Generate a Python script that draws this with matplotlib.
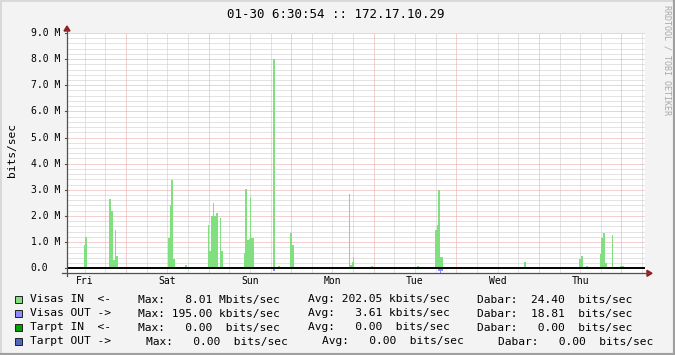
import matplotlib
matplotlib.use("Agg")
import numpy as np
import matplotlib.pyplot as plt
from matplotlib.transforms import blended_transform_factory
from matplotlib.patches import Rectangle, Polygon

W, H = 675, 355

# traffic: hours since Fri 00:00 -> Mbit/s (step series)
in_hours = [11.8, 12.1, 12.7,
            19.0, 19.55, 20.15, 20.7, 21.0, 21.7,
            36.1, 36.8, 37.1, 37.65, 38.25,
            41.15, 41.75,
            47.85, 48.15, 48.7, 49.3, 49.6, 50.15, 50.75, 51.35, 51.6, 52.2,
            58.3, 58.6, 59.2, 59.75, 60.15, 60.45, 61.1,
            66.75, 67.3,
            68.2, 68.8,
            71.6, 72.15, 72.75,
            88.75, 89.05, 89.7, 90.0, 90.3, 90.85,
            95.2, 95.8,
            108.6, 109.2,
            113.9, 114.3, 114.7, 115.3, 116.15,
            139.7, 140.3,
            155.7, 156.25, 156.85,
            157.7, 158.3,
            161.8, 162.1, 162.65, 163.25, 163.85,
            165.3, 165.6,
            167.6, 168.75]
in_mbps = [0.9, 1.2, 0,
           2.64, 2.2, 0.32, 1.46, 0.46, 0,
           1.16, 2.41, 3.37, 0.36, 0,
           0.11, 0,
           1.65, 0.64, 2.0, 2.49, 2.0, 2.12, 0, 1.93, 0.65, 0,
           0.59, 3.03, 1.07, 1.1, 2.73, 1.15, 0,
           8.01, 0,
           0.08, 0,
           1.34, 0.88, 0,
           2.83, 0.13, 0.25, 0.42, 0.05, 0,
           0.09, 0,
           0.09, 0,
           1.47, 1.67, 2.99, 0.41, 0,
           0.24, 0,
           0.36, 0.47, 0,
           0.09, 0,
           0.55, 1.15, 1.35, 0.2, 0,
           1.27, 0,
           0.09, 0]

out_hours = [66.75, 67.3, 88.75, 89.05, 114.7, 115.3, 115.6, 116.15]
out_mbps = [0.1, 0, 0.04, 0, 0.09, 0.195, 0.09, 0]

t_start, t_end = 6.85, 174.85
y_min, y_max = -0.195, 9.0

day_names = ['Fri', 'Sat', 'Sun', 'Mon', 'Tue', 'Wed', 'Thu']
y_ticks = [0, 1, 2, 3, 4, 5, 6, 7, 8, 9]
y_labels = ['0.0', '1.0 M', '2.0 M', '3.0 M', '4.0 M', '5.0 M', '6.0 M',
            '7.0 M', '8.0 M', '9.0 M']

title = '01-30 6:30:54 :: 172.17.10.29'
legend_names = ['Visas IN  <-', 'Visas OUT ->', 'Tarpt IN  <-', 'Tarpt OUT ->']
legend_max = ['Max:   8.01 Mbits/sec', 'Max: 195.00 kbits/sec',
              'Max:   0.00  bits/sec', 'Max:   0.00  bits/sec']
legend_avg = ['Avg: 202.05 kbits/sec', 'Avg:   3.61 kbits/sec',
              'Avg:   0.00  bits/sec', 'Avg:   0.00  bits/sec']
legend_cur = ['Dabar:  24.40  bits/sec', 'Dabar:  18.81  bits/sec',
              'Dabar:   0.00  bits/sec', 'Dabar:   0.00  bits/sec']
legend_colors = ['#80e080', '#8c8cff', '#00a000', '#5068c0']

MONO = 'DejaVu Sans Mono'

fig = plt.figure(figsize=(W / 100, H / 100), dpi=100, facecolor='#f3f3f3')

def fx(px):
    return px / W

def fy(py):
    return 1 - py / H

ax_l, ax_r, ax_t, ax_b = 67, 645, 33, 273.3
ax = fig.add_axes([fx(ax_l), fy(ax_b), fx(ax_r - ax_l), (ax_b - ax_t) / H])
ax.set_facecolor('white')
ax.set_xlim(t_start, t_end)
ax.set_ylim(y_min, y_max)
for s in ax.spines.values():
    s.set_visible(False)
ax.set_xticks([])
ax.set_yticks([])

# grid (dotted, minor gray / major red)
dots = (0, (1, 1))
minor_c, major_c = '#c8c8c8', '#e8a0a0'
for h in np.arange(6, t_end, 6):
    if h < t_start:
        continue
    major = (h % 24 == 0)
    ax.axvline(h, color=major_c if major else minor_c, lw=0.72, ls=dots, zorder=1)
for v in np.arange(0, 9.01, 0.2):
    major = abs(v - round(v)) < 1e-6
    ax.axhline(v, color=major_c if major else minor_c, lw=0.72, ls=dots, zorder=1)

# data
ax.fill_between(in_hours, 0, in_mbps, step='post', color='#80e080', lw=0,
                antialiased=False, zorder=2)
ax.fill_between(out_hours, 0, -np.array(out_mbps), step='post', color='#8c8cff',
                lw=0, antialiased=False, zorder=2)

# zero rule
ax.axhline(0, color='black', lw=1.4, zorder=3)

# axis lines with arrows
axis_c, arrow_c = '#505050', '#902020'
fig.add_artist(plt.Line2D([fx(ax_l), fx(ax_l)], [fy(276), fy(30)],
                          color=axis_c, lw=0.9))
fig.add_artist(plt.Line2D([fx(62), fx(649)], [fy(ax_b), fy(ax_b)],
                          color=axis_c, lw=0.9))
fig.add_artist(Polygon([[fx(ax_l - 3), fy(31)], [fx(ax_l + 3), fy(31)],
                        [fx(ax_l), fy(26)]], closed=True, color=arrow_c,
                       transform=fig.transFigure))
fig.add_artist(Polygon([[fx(647), fy(ax_b - 3)], [fx(647), fy(ax_b + 3)],
                        [fx(652), fy(ax_b)]], closed=True, color=arrow_c,
                       transform=fig.transFigure))

# y labels and little ticks
ty = blended_transform_factory(fig.transFigure, ax.transData)
for v, lab in zip(y_ticks, y_labels):
    ax.text(fx(30.7), v, lab, transform=ty, ha='left', va='center',
            fontsize=7, family=MONO, color='black', clip_on=False)
    ax.plot([fx(ax_l - 2), fx(ax_l)], [v, v], transform=ty, color=axis_c,
            lw=0.8, clip_on=False)

# x day labels at noon
tx = blended_transform_factory(ax.transData, fig.transFigure)
for i, d in enumerate(day_names):
    ax.text(12 + 24 * i, fy(281), d, transform=tx, ha='center', va='center',
            fontsize=7, family=MONO, color='black', clip_on=False)

fig.text(fx(12), fy(150), 'bits/sec', rotation=90, ha='center', va='center',
         fontsize=8.15, family=MONO)
fig.text(fx(335.5), fy(14), title, ha='center', va='center', fontsize=9,
         family=MONO)
fig.text(fx(667), fy(60), 'RRDTOOL / TOBI OETIKER', rotation=270,
         ha='center', va='center', fontsize=6, family=MONO, color='#a8a8a8')

# legend (rrdtool puts the last row one column further per block)
col_x = [[30, 137.8, 307.8, 477]] * 3 + [[30, 145.5, 322, 498.5]]
for i in range(4):
    yc = 299.5 + 14 * i
    fig.add_artist(Rectangle((fx(15), fy(yc + 3.5)), fx(7), 7 / H,
                             facecolor=legend_colors[i], edgecolor='#202020',
                             lw=0.7, transform=fig.transFigure))
    pieces = [legend_names[i], legend_max[i], legend_avg[i], legend_cur[i]]
    for xp, txt in zip(col_x[i], pieces):
        fig.text(fx(xp), fy(yc), txt, ha='left', va='center', fontsize=8.15,
                 family=MONO)

# frame
fig.add_artist(plt.Line2D([0, 0], [0, 1], color='#d8d8d8', lw=2))
fig.add_artist(plt.Line2D([0, 1], [1, 1], color='#d8d8d8', lw=2))
fig.add_artist(plt.Line2D([1, 1], [0, 1], color='#a0a0a0', lw=3))
fig.add_artist(plt.Line2D([0, 1], [0, 0], color='#a0a0a0', lw=3))

fig.savefig('out.png', dpi=100, facecolor=fig.get_facecolor())
